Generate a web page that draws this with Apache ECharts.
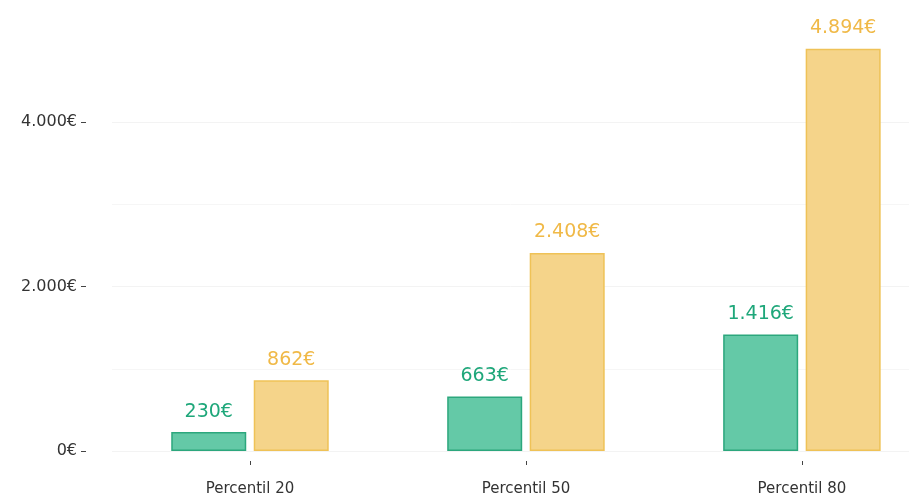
<!DOCTYPE html>
<html>
<head>
<meta charset="utf-8">
<script src="https://cdn.jsdelivr.net/npm/echarts@6/dist/echarts.min.js"></script>
<style>
  html, body { margin: 0; padding: 0; background: #fff; }
  #chart { width: 909px; height: 500px; }
</style>
</head>
<body>
<div id="chart"></div>
<script>
var categories = ['Percentil 20', 'Percentil 50', 'Percentil 80']
var greenValues = [230, 663, 1416]
var yellowValues = [862, 2408, 4894]
var yTicks = [0, 2000, 4000]

function euro(v) {
  return String(v).replace(/\B(?=(\d{3})+(?!\d))/g, '.') + '€'
}

// categories sit at 0, 1, 2 on a value axis so the panel can run past the right edge
var catPos = categories.map(function (c, i) { return i })
var greenData = greenValues.map(function (v, i) { return [catPos[i], v] })
var yellowData = yellowValues.map(function (v, i) { return [catPos[i], v] })

var chart = echarts.init(document.getElementById('chart'))
var font = '"DejaVu Sans", sans-serif'

chart.setOption({
  animation: false,
  grid: {
    left: 112,
    right: 0,
    top: 40,
    bottom: 49
  },
  xAxis: {
    type: 'value',
    min: -0.5,
    max: 2.388,
    offset: 10,
    splitLine: { show: false },
    axisLine: { show: false, onZero: false },
    axisTick: { show: true, length: 4, customValues: catPos, lineStyle: { color: '#444' } },
    axisLabel: {
      color: '#333', fontSize: 15, fontFamily: font, margin: 21,
      customValues: catPos,
      formatter: function (v) { return categories[Math.round(v)] }
    }
  },
  yAxis: {
    type: 'value',
    min: 0,
    max: 5000,
    interval: 2000,
    offset: 26,
    axisLine: { show: false, onZero: false },
    axisTick: { show: true, length: 5, customValues: yTicks, lineStyle: { color: '#444' } },
    axisLabel: {
      color: '#333', fontSize: 16, fontFamily: font, margin: 9,
      customValues: yTicks,
      formatter: function (v) { return euro(v) }
    },
    splitLine: { show: true, lineStyle: { color: '#f3f3f3', width: 1 } },
    minorTick: { show: false, splitNumber: 2 },
    minorSplitLine: { show: true, lineStyle: { color: '#f6f6f6', width: 1 } }
  },
  series: [{
    type: 'bar',
    data: greenData,
    barWidth: 75,
    barGap: '10%',
    itemStyle: { color: '#64c9a7', borderColor: '#2ca77d', borderWidth: 1.5 },
    label: {
      show: true, position: 'top', distance: 11,
      color: '#1ea77a', fontSize: 19, fontFamily: font,
      formatter: function (p) { return euro(p.value[1]) }
    }
  }, {
    type: 'bar',
    data: yellowData,
    barWidth: 75,
    itemStyle: { color: '#f5d48a', borderColor: '#efc257', borderWidth: 1.5 },
    label: {
      show: true, position: 'top', distance: 11,
      color: '#f0b947', fontSize: 19, fontFamily: font,
      formatter: function (p) { return euro(p.value[1]) }
    }
  }]
})
</script>
</body>
</html>
